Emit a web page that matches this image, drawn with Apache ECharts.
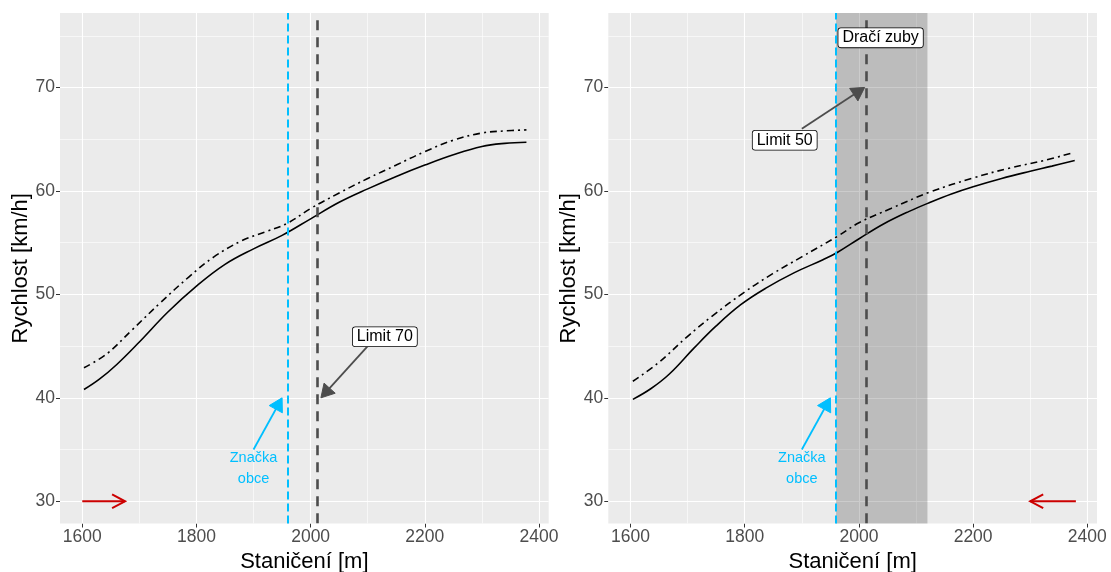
<!DOCTYPE html>
<html><head><meta charset="utf-8">
<script src="https://cdn.jsdelivr.net/npm/echarts@6/dist/echarts.min.js"></script>
<style>html,body{margin:0;padding:0;background:#fff}#c{width:1111px;height:572px}</style>
</head><body><div id="c"></div><script>
// ---- axes ----
const xTicks = [1600, 1800, 2000, 2200, 2400];
const xMinor = [1700, 1900, 2100, 2300];
const yTicks = [30, 40, 50, 60, 70];
const yMinor = [35, 45, 55, 65, 75];
const xRange = [1561, 2417];
const yRange = [27.85, 77.2];

// ---- left panel curves ----
const leftSolidX = [1603,1630,1660,1700,1750,1800,1850,1900,1950,2000,2050,2100,2150,2200,2250,2300,2340,2378];
const leftSolidY = [40.8,41.8,43.2,45.4,48.3,50.8,52.9,54.4,55.7,57.3,58.9,60.2,61.4,62.5,63.5,64.3,64.6,64.7];
const leftDashX = [1603,1643,1686,1737,1787,1830,1880,1924,1960,2000,2050,2100,2150,2200,2250,2300,2340,2378];
const leftDashY = [42.9,44.25,46.5,49.2,51.7,53.6,55.2,56.1,56.9,58.3,59.8,61.2,62.5,63.8,64.9,65.6,65.8,65.9];

// ---- right panel curves ----
const rightSolidX = [1604,1636,1668,1711,1749,1793,1837,1887,1937,1962,2001,2043,2087,2125,2162,2200,2250,2300,2338,2378];
const rightSolidY = [39.85,40.9,42.3,44.8,46.9,49.0,50.6,52.1,53.35,54.05,55.4,56.8,58.0,58.9,59.7,60.4,61.2,61.9,62.4,62.95];
const rightDashX = [1604,1649,1699,1743,1799,1849,1899,1962,2001,2056,2125,2200,2263,2325,2375];
const rightDashY = [41.6,43.4,45.9,47.9,50.2,52.0,53.6,55.6,56.95,58.3,59.9,61.25,62.2,62.95,63.7];

// ---- annotations ----
const signX = 1960;          // Značka obce
const limitX = 2012;         // speed limit sign
const limitTop = 76.5;
const zoneRight = [1960, 2120]; // Dračí zuby zone
const leftArrows = [ // x1, y1, x2, y2
  [1900, 35, 1950, 40],
  [2100, 45, 2018, 40],
  [1600, 30, 1675, 30]
];
const rightArrows = [
  [1900, 35, 1950, 40],
  [1900, 66, 2010, 70],
  [2380, 30, 2300, 30]
];
const leftLabels = [{ name: 'Limit 70', coord: [2130, 45.9] }];
const rightLabels = [{ name: 'Limit 50', coord: [1870, 64.9] }, { name: 'Dračí zuby', coord: [2038, 74.8] }];
const signText = { name: 'Značka\nobce', coord: [1900, 33.2] };

const FONT = '"Liberation Sans", Arial, sans-serif';
const BLUE = '#00BFFF';
const arrowStyles = [
  { color: BLUE, width: 1.8, head: 13, angle: 30, closed: true },
  { color: '#4d4d4d', width: 1.8, head: 13, angle: 30, closed: true },
  { color: '#CC0000', width: 2, head: 13, angle: 28, closed: false }
];

function zip(xs, ys) { return xs.map((x, i) => [x, ys[i]]); }

function arrowRender(params, api) {
  const s = arrowStyles[params.dataIndex];
  const p1 = api.coord([api.value(0), api.value(1)]);
  const p2 = api.coord([api.value(2), api.value(3)]);
  const dx = p2[0] - p1[0], dy = p2[1] - p1[1];
  const L = Math.hypot(dx, dy), ux = dx / L, uy = dy / L;
  const hl = s.head, hw = s.head * Math.tan(s.angle * Math.PI / 180);
  const bx = p2[0] - ux * hl, by = p2[1] - uy * hl;
  const a = [bx - uy * hw, by + ux * hw], b = [bx + uy * hw, by - ux * hw];
  const ch = [];
  if (s.closed) {
    ch.push({ type: 'line', shape: { x1: p1[0], y1: p1[1], x2: bx + ux * 2, y2: by + uy * 2 }, style: { stroke: s.color, lineWidth: s.width } });
    ch.push({ type: 'polygon', shape: { points: [p2, a, b] }, style: { fill: s.color, stroke: s.color, lineWidth: 1 } });
  } else {
    ch.push({ type: 'line', shape: { x1: p1[0], y1: p1[1], x2: p2[0], y2: p2[1] }, style: { stroke: s.color, lineWidth: s.width } });
    ch.push({ type: 'polyline', shape: { points: [a, p2, b] }, style: { stroke: s.color, lineWidth: s.width, fill: null } });
  }
  return { type: 'group', children: ch };
}

function gridLines() {
  const d = [];
  xTicks.forEach(v => d.push({ xAxis: v, lineStyle: { width: 1.1 } }));
  xMinor.forEach(v => d.push({ xAxis: v, lineStyle: { width: 0.6 } }));
  yTicks.forEach(v => d.push({ yAxis: v, lineStyle: { width: 1.1 } }));
  yMinor.forEach(v => d.push({ yAxis: v, lineStyle: { width: 0.6 } }));
  return { silent: true, symbol: 'none', z: 1, animation: false, label: { show: false },
    lineStyle: { color: '#ffffff', type: 'solid' }, emphasis: { disabled: true }, data: d };
}

function labelPoints(list) {
  const data = list.map(l => ({ name: l.name, coord: l.coord,
    label: { show: true, position: 'inside', formatter: '{b}', fontFamily: FONT, fontSize: 16, color: '#000',
      backgroundColor: '#fff', borderColor: '#000', borderWidth: 0.8, borderRadius: 2.5, padding: [2, 4, 1, 4], lineHeight: 16 } }));
  data.push({ name: signText.name, coord: signText.coord,
    label: { show: true, position: 'inside', formatter: '{b}', fontFamily: FONT, fontSize: 14.5, color: BLUE, lineHeight: 21 } });
  return { silent: true, symbol: 'rect', symbolSize: 0, z: 6, animation: false, data };
}

function vLines() {
  return { silent: true, symbol: 'none', z: 4, animation: false, label: { show: false }, emphasis: { disabled: true },
    data: [
      { xAxis: signX, lineStyle: { color: BLUE, width: 2, type: [8, 4] } },
      [{ coord: [limitX, limitTop], lineStyle: { color: '#4d4d4d', width: 2.6, type: [10, 7] } }, { coord: [limitX, yRange[0]] }]
    ] };
}

const plain = v => String(v);
function axisPair(i) {
  return {
    x: { type: 'value', gridIndex: i, min: xRange[0], max: xRange[1],
      name: 'Staničení [m]', nameLocation: 'middle', nameGap: 14,
      nameTextStyle: { fontFamily: FONT, fontSize: 22, color: '#000' },
      axisLine: { show: false }, splitLine: { show: false },
      axisTick: { show: true, length: 4, customValues: xTicks, lineStyle: { color: '#333', width: 1 } },
      axisLabel: { customValues: xTicks, formatter: plain, margin: 5, fontFamily: FONT, fontSize: 17.5, color: '#4d4d4d' } },
    y: { type: 'value', gridIndex: i, min: yRange[0], max: yRange[1],
      name: 'Rychlost [km/h]', nameLocation: 'middle', nameGap: 21, nameRotate: 90,
      nameTextStyle: { fontFamily: FONT, fontSize: 22, color: '#000' },
      axisLine: { show: false }, splitLine: { show: false },
      axisTick: { show: true, length: 4, customValues: yTicks, lineStyle: { color: '#333', width: 1 } },
      axisLabel: { customValues: yTicks, formatter: plain, margin: 5, fontFamily: FONT, fontSize: 17.5, color: '#4d4d4d' } }
  };
}
const a0 = axisPair(0), a1 = axisPair(1);

function panelSeries(i, sx, sy, dx, dy, arrows, labels, zone) {
  const solid = { type: 'line', xAxisIndex: i, yAxisIndex: i, data: zip(sx, sy), showSymbol: false, smooth: 0.4,
    z: 3, lineStyle: { color: '#000', width: 1.6 }, silent: true, animation: false,
    markLine: vLines(), markPoint: labelPoints(labels) };
  if (zone) solid.markArea = { silent: true, z: 1.5, itemStyle: { color: 'rgba(0,0,0,0.2)' }, data: [[{ xAxis: zone[0] }, { xAxis: zone[1] }]] };
  const dash = { type: 'line', xAxisIndex: i, yAxisIndex: i, data: zip(dx, dy), showSymbol: false, smooth: 0.4,
    z: 3, lineStyle: { color: '#000', width: 1.6, type: [7, 4, 2, 4] }, silent: true, animation: false,
    markLine: gridLines() };
  const arr = { type: 'custom', xAxisIndex: i, yAxisIndex: i, data: arrows, renderItem: arrowRender,
    encode: { x: [0, 2], y: [1, 3] }, z: 5, silent: true, animation: false };
  return [solid, dash, arr];
}

const option = {
  animation: false,
  textStyle: { fontFamily: FONT },
  grid: [
    { left: 60, top: 13, width: 488.7, height: 510.5, show: true, backgroundColor: '#EBEBEB', borderWidth: 0, containLabel: false, outerBoundsMode: 'none' },
    { left: 608.3, top: 13, width: 488.7, height: 510.5, show: true, backgroundColor: '#EBEBEB', borderWidth: 0, containLabel: false, outerBoundsMode: 'none' }
  ],
  xAxis: [a0.x, a1.x],
  yAxis: [a0.y, a1.y],
  series: [
    ...panelSeries(0, leftSolidX, leftSolidY, leftDashX, leftDashY, leftArrows, leftLabels, null),
    ...panelSeries(1, rightSolidX, rightSolidY, rightDashX, rightDashY, rightArrows, rightLabels, zoneRight)
  ]
};
const chart = echarts.init(document.getElementById('c'), null, { renderer: 'canvas' });
chart.setOption(option);
</script></body></html>
